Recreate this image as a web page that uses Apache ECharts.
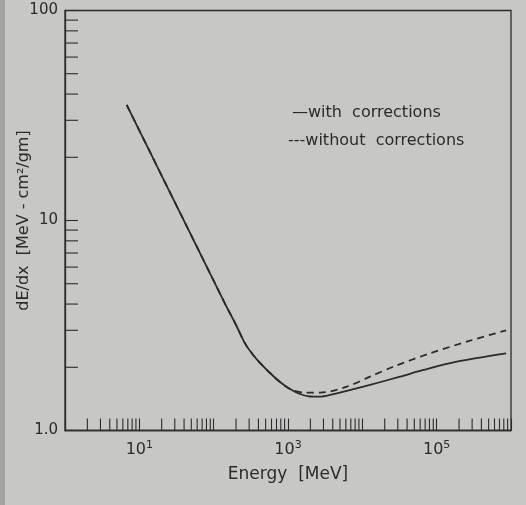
<!DOCTYPE html>
<html>
<head>
<meta charset="utf-8">
<script src="https://cdn.jsdelivr.net/npm/echarts@6/dist/echarts.min.js"></script>
<style>
  html, body { margin: 0; padding: 0; background: #c7c7c5; }
  #edge { position: absolute; left: 0; top: 0; width: 5px; height: 505px; background: #a3a3a1; }
  #chart { width: 526px; height: 505px; }
</style>
</head>
<body>
<div id="edge"></div>
<div id="chart"></div>
<script>
// Energy loss of a minimum-ionising particle versus energy (log-log)
const energyWith = [6.76, 13.9, 30.2, 65.5, 142, 200, 264, 328, 420, 573, 781, 1064, 1451, 1978, 2696, 3675, 10310, 32140, 66140, 186200, 860000];
const dedxWith   = [35.5, 21.2, 12.17, 7.0, 4.02, 3.18, 2.60, 2.326, 2.097, 1.878, 1.702, 1.576, 1.492, 1.452, 1.449, 1.476, 1.617, 1.804, 1.942, 2.126, 2.331];

const energyWithout = [6.76, 13.9, 30.2, 65.5, 142, 200, 264, 328, 420, 573, 781, 1064, 1694, 2696, 6165, 12690, 27520, 81390, 280900, 860000];
const dedxWithout   = [35.5, 21.2, 12.17, 7.0, 4.02, 3.18, 2.60, 2.326, 2.097, 1.878, 1.702, 1.576, 1.514, 1.514, 1.617, 1.804, 2.028, 2.331, 2.677, 3.0];

// minor tick values (2..9 of each decade)
const xMinorTicks = [];
for (let k = 0; k <= 5; k++) for (let m = 2; m <= 9; m++) xMinorTicks.push(m * Math.pow(10, k));
const yMinorTicks = [];
for (let k = 0; k <= 1; k++) for (let m = 2; m <= 9; m++) yMinorTicks.push(m * Math.pow(10, k));

const labelWith = '\u2014with  corrections';
const labelWithout = '---without  corrections';
const xName = 'Energy  [MeV]';
const yName = 'dE/dx  [MeV - cm\u00B2/gm]';

const ink = '#2b2b2b';
const font = 'DejaVu Sans';

const chart = echarts.init(document.getElementById('chart'), null, { renderer: 'canvas' });

function pairs(xs, ys) { return xs.map((x, i) => [x, ys[i]]); }

chart.setOption({
  backgroundColor: 'transparent',
  animation: false,
  grid: {
    left: 65, right: 15, top: 10.5, bottom: 74.5, outerBoundsMode: 'none',
    show: true, borderColor: ink, borderWidth: 1.3, backgroundColor: 'transparent'
  },
  xAxis: {
    type: 'log', logBase: 10, min: 1, max: 1e6, splitNumber: 6,
    name: xName, nameLocation: 'middle', nameGap: 36, nameMoveOverlap: false,
    nameTextStyle: { fontFamily: font, fontSize: 17, color: ink },
    axisLine: { show: true, lineStyle: { color: ink, width: 1.3 } },
    axisTick: { show: true, inside: true, length: 12, lineStyle: { color: ink, width: 1.1 } },
    splitLine: { show: false },
    axisLabel: {
      margin: 9, color: ink, fontFamily: font,
      formatter: function (v) {
        const e = Math.round(Math.log10(v));
        return (e % 2 === 1) ? '{b|10}{s|' + e + '}' : '';
      },
      rich: {
        b: { fontFamily: font, fontSize: 16, color: ink },
        s: { fontFamily: font, fontSize: 11, color: ink, padding: [0, 0, 10, 0] }
      }
    }
  },
  yAxis: {
    type: 'log', logBase: 10, min: 1, max: 100,
    name: yName, nameLocation: 'middle', nameGap: 33, nameMoveOverlap: false,
    nameTextStyle: { fontFamily: font, fontSize: 16, color: ink },
    axisLine: { show: true, lineStyle: { color: ink, width: 1.3 } },
    axisTick: { show: true, inside: true, length: 13, lineStyle: { color: ink, width: 1.1 } },
    splitLine: { show: false },
    axisLabel: {
      margin: 7, color: ink, fontFamily: font, fontSize: 15,
      formatter: function (v) { return v === 1 ? '1.0' : String(v); }
    }
  },
  graphic: [
    { type: 'text', left: 292, top: 105, style: { text: labelWith, font: '16px "DejaVu Sans"', fill: ink } },
    { type: 'text', left: 288, top: 133, style: { text: labelWithout, font: '16px "DejaVu Sans"', fill: ink } }
  ],
  series: [
    {
      name: 'without corrections', type: 'line', data: pairs(energyWithout, dedxWithout),
      showSymbol: false, symbol: 'none', smooth: 0.3,
      lineStyle: { color: ink, width: 1.8, type: [7, 5] }
    },
    {
      name: 'with corrections', type: 'line', data: pairs(energyWith, dedxWith),
      showSymbol: false, symbol: 'none', smooth: 0.3,
      lineStyle: { color: ink, width: 1.8 }
    },
    {
      name: 'x minor ticks', type: 'custom', silent: true,
      data: xMinorTicks.map(v => [v, 1]),
      renderItem: function (params, api) {
        const p = api.coord([api.value(0), api.value(1)]);
        return { type: 'line', shape: { x1: p[0], y1: p[1], x2: p[0], y2: p[1] - 12 },
                 style: { stroke: ink, lineWidth: 1.1 } };
      }
    },
    {
      name: 'y minor ticks', type: 'custom', silent: true,
      data: yMinorTicks.map(v => [1, v]),
      renderItem: function (params, api) {
        const p = api.coord([api.value(0), api.value(1)]);
        return { type: 'line', shape: { x1: p[0], y1: p[1], x2: p[0] + 13, y2: p[1] },
                 style: { stroke: ink, lineWidth: 1.1 } };
      }
    }
  ]
});
</script>
</body>
</html>
